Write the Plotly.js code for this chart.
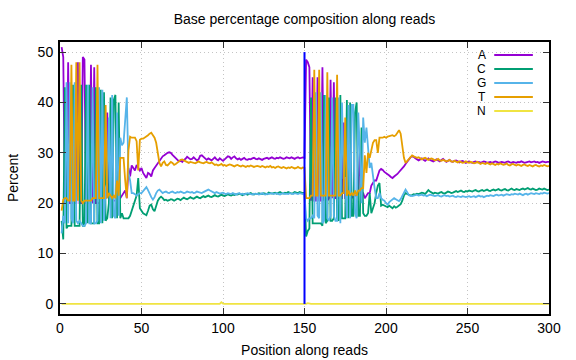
<!DOCTYPE html>
<html><head><meta charset="utf-8">
<script src="https://cdn.plot.ly/plotly-3.0.1.min.js"></script>
<style>html,body{margin:0;padding:0;background:#fff}#chart{width:576px;height:360px}</style>
</head><body><div id="chart"></div>
<script>
const seriesNames = ['A', 'C', 'G', 'T', 'N'];
const seriesColors = ['#9400d3', '#009e73', '#56b4e9', '#e69f00', '#f0e442'];
const firstPosition = 1;

const percentA = [
51, 49, 20, 20, 48, 20, 20, 20, 20, 20,
48, 20, 20, 49, 48.5, 20, 20, 20, 47.5, 20,
47, 20, 20, 20, 20.5, 20.5, 20.5, 21, 38, 21,
20.5, 20.5, 20.5, 20.5, 20.5, 21, 21, 21.5, 22, 22.5,
21, 27, 25.3, 27.5, 27, 26.5, 27.6, 27, 26.5, 27,
26, 25.5, 25, 26, 25.8, 25.3, 26.5, 27, 27.5, 27.8,
28.3, 28.8, 29.3, 29.5, 29.8, 30, 30.1, 30, 29.6, 29.3,
29, 28.6, 28.3, 28.5, 28.2, 28.6, 28.8, 29.2, 29, 28.7,
28.8, 29.1, 28.8, 28.5, 28.7, 29.4, 29.5, 29.2, 28.8, 28.6,
28.9, 28.7, 28.5, 28.8, 29.1, 28.7, 28.5, 28.9, 28.6, 28.4,
28.7, 29, 29.3, 29.2, 28.8, 29.1, 29.3, 28.9, 28.7, 28.9,
28.6, 28.8, 29.0, 28.7, 28.6, 28.8, 28.7, 28.9, 29.0, 28.8,
28.7, 28.9, 28.8, 28.6, 28.8, 28.9, 29.0, 28.8, 28.9, 29.1,
28.9, 28.8, 29.0, 28.9, 29.1, 29.0, 28.8, 28.9, 29.1, 29.0,
28.9, 29.1, 29.0, 28.8, 29.0, 29.1, 28.9, 29.0, 29.1, 29.0,
48.5, 48, 47, 20.5, 45, 20.5, 20.5, 45, 20.5, 20.5,
47, 20.5, 21, 20.5, 21, 44.5, 21, 44, 21, 21,
21, 21, 21, 36, 21, 21, 21, 21.5, 21, 21.5,
21.5, 21.5, 22, 30, 22, 22, 21, 21.5, 22, 22,
23.5, 24, 24.5, 24.5, 25.5, 26.5, 26.8, 26.6, 26.2, 26,
25.7, 25.5, 25.2, 25, 25.3, 25.5, 25.8, 26.2, 26.5, 27,
27.3, 27.8, 28.3, 28.8, 29.1, 29.3, 29.2, 28.9, 28.6, 28.5,
28.7, 28.9, 28.6, 28.4, 28.7, 28.9, 28.6, 28.4, 28.3, 28.5,
28.7, 28.5, 28.3, 28.6, 28.8, 28.5, 28.2, 28.4, 28.6, 28.3,
28.2, 28.4, 28.5, 28.3, 28.1, 28.3, 28.4, 28.2, 28.0, 28.2,
28.3, 28.1, 28.0, 28.2, 28.3, 28.1, 28.2, 28.0, 28.1, 28.3,
28.2, 28.0, 28.1, 28.2, 28.0, 28.1, 28.3, 28.2, 28.0, 28.1,
28.2, 28.1, 28.0, 28.2, 28.3, 28.1, 28.0, 28.2, 28.1, 28.0,
28.2, 28.1, 28.3, 28.2, 28.0, 28.1, 28.2, 28.3, 28.1, 28.2,
28.3, 28.1, 28.2, 28.0, 28.1, 28.3, 28.2, 28.1, 28.2, 28.2
];

const percentC = [
16.5, 12.8, 43, 15, 15.5, 15.5, 15.5, 43.5, 15.5, 15.5,
15.5, 15.5, 43.5, 15.5, 15.5, 43.5, 16, 43.5, 16, 16,
16, 43, 16, 16, 42.5, 16, 42, 16.5, 17, 20,
41, 17, 40.5, 41.5, 17, 40, 17, 18, 17, 17,
17, 17, 17.5, 18.5, 19.5, 20.5, 21.5, 25, 19, 18.5,
18, 17.8, 17.6, 18.5, 19.5, 19.7, 18.8, 18.4, 19.5, 20.5,
21, 21.3, 21, 20.6, 20.7, 20.5, 20.6, 20.8, 20.7, 20.5,
20.7, 20.9, 20.8, 20.6, 20.9, 21.1, 20.9, 20.8, 21.0, 21.2,
21.0, 20.9, 21.1, 21.3, 21.1, 21.0, 21.2, 21.4, 21.2, 21.3,
21.5, 21.3, 21.2, 21.4, 21.6, 21.4, 21.3, 21.5, 21.7, 21.5,
21.4, 21.6, 21.8, 21.6, 21.5, 21.7, 21.6, 21.8, 21.7, 21.9,
21.8, 21.6, 21.8, 21.9, 21.7, 21.8, 22.0, 21.8, 21.7, 21.9,
21.8, 22.0, 21.9, 21.8, 22.0, 21.9, 21.8, 22.1, 22.0, 21.9,
22.0, 22.1, 21.9, 22.0, 22.2, 22.0, 21.9, 22.1, 22.0, 22.2,
22.1, 21.9, 22.0, 22.2, 22.1, 22.0, 22.2, 22.1, 22.0, 22.1,
13.4, 14.5, 15, 41, 16, 16, 16, 16, 16, 16,
15.5, 41.5, 16, 16.5, 41, 16.5, 16.5, 17, 41, 17,
16.5, 41.5, 17, 17, 17, 40.5, 17, 40, 17.5, 17.5,
38, 40, 17.5, 17.5, 35, 18, 17.5, 17.5, 18, 22,
18, 19, 20, 22, 23.5, 24, 19.5, 19.7, 19.5, 19.3,
19.2, 19.5, 19.2, 19, 19.4, 19.1, 19.3, 19.5, 19.8, 20.5,
21.5, 22, 21.8, 21.6, 21.5, 21.6, 21.8, 21.7, 21.9, 21.8,
21.9, 22.1, 22.0, 21.8, 22.2, 22.6, 22.3, 22.0, 21.9, 22.1,
22.0, 21.9, 22.1, 22.2, 22.0, 21.9, 22.1, 22.3, 22.2, 22.0,
22.1, 22.3, 22.4, 22.2, 22.3, 22.5, 22.3, 22.2, 22.4, 22.3,
22.5, 22.4, 22.3, 22.5, 22.6, 22.4, 22.3, 22.5, 22.6, 22.4,
22.5, 22.7, 22.5, 22.4, 22.6, 22.7, 22.5, 22.6, 22.8, 22.6,
22.5, 22.7, 22.8, 22.6, 22.5, 22.7, 22.9, 22.7, 22.6, 22.8,
22.7, 22.6, 22.8, 22.9, 22.7, 22.8, 23.0, 22.8, 22.7, 22.9,
22.8, 22.6, 22.7, 22.9, 22.8, 22.7, 22.9, 22.8, 22.6, 22.7
];

const percentG = [
14, 17.5, 16, 44, 16, 44, 17, 16, 44, 16.5,
16, 16.5, 16, 15.5, 15.5, 16, 43.5, 16, 16, 43,
16, 16, 16.5, 43, 16, 42.5, 16.5, 23, 24, 37,
17, 41.5, 17.5, 17, 38, 17.5, 33, 31.5, 32, 36,
41, 26, 24.5, 22, 22, 21.8, 21.5, 21.8, 22, 22,
22.4, 22.8, 23.2, 22.6, 21.8, 21.2, 20.7, 21.2, 22, 22.5,
22.7, 22.3, 22, 22.2, 22.3, 22.1, 22, 22.2, 22.3, 22.1,
22, 22.2, 22.1, 22.3, 22.2, 22, 22.1, 22.3, 22.2, 22.1,
22.2, 22.0, 22.1, 22.3, 22.2, 22.1, 22.0, 22.2, 22.4, 22.6,
22.7, 22.5, 22.3, 22.1, 22.0, 22.2, 22.1, 21.9, 22.0, 22.1,
21.9, 21.8, 22.0, 21.9, 21.8, 22.0, 21.9, 21.7, 21.9, 22.0,
21.8, 21.9, 21.7, 21.8, 22.0, 21.9, 21.8, 21.7, 21.9, 21.8,
21.9, 21.7, 21.8, 22.0, 21.8, 21.7, 21.9, 21.8, 21.9, 22.0,
21.8, 21.9, 22.0, 21.8, 21.7, 21.9, 22.0, 21.8, 21.9, 21.8,
22.0, 21.9, 21.8, 22.0, 21.9, 21.8, 22.0, 21.9, 21.8, 21.9,
17, 16.5, 17, 17, 17.5, 17, 42, 17.5, 17, 42,
16, 16.5, 41.5, 17, 16.5, 17.5, 41, 17.5, 16.5, 16.5,
41, 16, 40, 25, 25, 17, 39.5, 17, 39.5, 39.5,
18, 17, 38, 30, 20, 37, 32, 35, 30, 27,
28, 25, 23, 21, 21, 22, 21, 20.7, 20.5, 20,
19.7, 20.2, 20.5, 20.7, 21, 20.8, 20.6, 20.4, 20.8, 21.5,
22, 22.7, 22.2, 21.6, 21.5, 21.4, 21.5, 21.6, 21.7, 21.5,
21.6, 21.7, 21.5, 21.6, 21.4, 21.5, 21.7, 21.6, 21.5, 21.4,
21.5, 21.6, 21.4, 21.3, 21.5, 21.6, 21.4, 21.5, 21.3, 21.4,
21.5, 21.3, 21.2, 21.4, 21.3, 21.2, 21.4, 21.3, 21.2, 21.3,
21.4, 21.2, 21.3, 21.4, 21.2, 21.3, 21.5, 21.3, 21.4, 21.2,
21.3, 21.5, 21.4, 21.6, 21.5, 21.4, 21.6, 21.7, 21.5, 21.6,
21.7, 21.5, 21.6, 21.8, 21.7, 21.6, 21.8, 21.7, 21.9, 21.8,
21.7, 21.9, 21.8, 21.6, 21.8, 21.9, 21.7, 21.8, 22.0, 21.9,
21.8, 22.0, 21.9, 21.8, 22.0, 21.9, 22.1, 22.0, 21.9, 22.0
];

const percentT = [
18.5, 20.7, 21, 21, 20.5, 20.5, 47.5, 20.5, 20.5, 48,
20.5, 48, 20.5, 20, 20.5, 20.5, 20.5, 20.5, 20.5, 21,
21, 21, 47.5, 21, 21, 21, 21, 39.5, 21, 22,
21.5, 21, 21.5, 21, 24.5, 21.5, 29, 29, 29, 24.5,
21, 30.5, 33.2, 33, 33, 33, 32.3, 26.5, 32.6, 32.8,
32.8, 33, 33.2, 33.5, 33.8, 34, 33.5, 33, 32, 30,
28, 27.3, 28, 28.3, 27.6, 27.5, 27.8, 28.2, 28, 27.6,
27.8, 28, 28.3, 28.6, 28.7, 28.5, 28.3, 28.2, 28, 28.2,
28.1, 28, 27.9, 28.1, 28.3, 28.1, 28, 27.9, 28.1, 28.2,
28.0, 27.9, 28.1, 27.8, 27.6, 27.7, 27.5, 27.6, 27.8, 27.5,
27.6, 27.4, 27.5, 27.7, 27.6, 27.4, 27.3, 27.5, 27.6, 27.4,
27.3, 27.5, 27.4, 27.2, 27.4, 27.3, 27.5, 27.4, 27.2, 27.3,
27.4, 27.3, 27.2, 27.4, 27.3, 27.1, 27.3, 27.2, 27.4, 27.1,
27.2, 27.0, 27.2, 27.3, 27.1, 27.0, 27.2, 27.1, 26.9, 27.1,
27.0, 27.2, 27.1, 26.9, 27.0, 27.2, 27.0, 26.9, 27.1, 27.0,
21, 21, 21, 21.5, 21.5, 46.5, 21.5, 21.5, 46.5, 21.5,
21.5, 21.5, 21.5, 46, 21.5, 21.5, 21.5, 21.5, 21.5, 45.5,
21.5, 21.5, 22, 22, 37, 21.5, 22.5, 21.5, 22, 21.5,
22.5, 21.5, 22.5, 22.5, 23, 23, 29.5, 26, 30, 29,
30.5, 32, 32.5, 32.5, 30, 33, 33, 33, 33.2, 33,
33.2, 33.3, 33.5, 33.5, 33.3, 33.5, 34, 34.5, 33.8, 31,
29, 28, 28.4, 28.8, 29.3, 29.5, 29.3, 29.2, 29, 29.1,
28.9, 28.7, 28.9, 29.0, 28.8, 28.6, 28.8, 28.9, 28.7, 28.5,
28.6, 28.8, 28.5, 28.4, 28.6, 28.5, 28.3, 28.4, 28.6, 28.3,
28.2, 28.4, 28.3, 28.1, 28.3, 28.2, 28.0, 28.1, 28.3, 28.1,
28.0, 28.2, 28.1, 27.9, 28.0, 28.2, 28.0, 27.8, 28.0, 27.9,
27.8, 28.0, 27.9, 27.7, 27.9, 27.8, 27.6, 27.8, 27.7, 27.9,
27.8, 27.6, 27.7, 27.9, 27.6, 27.5, 27.7, 27.8, 27.6, 27.5,
27.7, 27.6, 27.4, 27.6, 27.7, 27.5, 27.4, 27.6, 27.5, 27.3,
27.5, 27.6, 27.4, 27.3, 27.5, 27.4, 27.6, 27.5, 27.3, 27.4
];

const percentN = [
0, 0, 0, 0, 0, 0, 0, 0, 0, 0,
0, 0, 0, 0, 0, 0, 0, 0, 0, 0,
0, 0, 0, 0, 0, 0, 0, 0, 0, 0,
0, 0, 0, 0, 0, 0, 0, 0, 0, 0,
0, 0, 0, 0, 0, 0, 0, 0, 0, 0,
0, 0, 0, 0, 0, 0, 0, 0, 0, 0,
0, 0, 0, 0, 0, 0, 0, 0, 0, 0,
0, 0, 0, 0, 0, 0, 0, 0, 0, 0,
0, 0, 0, 0, 0, 0, 0, 0, 0, 0,
0, 0, 0, 0, 0, 0, 0, 0, 0.35, 0.05,
0, 0, 0, 0, 0, 0, 0, 0, 0, 0,
0, 0, 0, 0, 0, 0, 0, 0, 0, 0,
0, 0, 0, 0, 0, 0, 0, 0, 0, 0,
0, 0, 0, 0, 0, 0, 0, 0, 0, 0,
0, 0, 0, 0, 0, 0, 0, 0, 0, 0,
0, 0.15, 0, 0, 0, 0, 0, 0, 0, 0,
0, 0, 0, 0, 0, 0, 0, 0, 0, 0,
0, 0, 0, 0, 0, 0, 0, 0, 0, 0,
0, 0, 0, 0, 0, 0, 0, 0, 0, 0,
0, 0, 0, 0, 0, 0, 0, 0, 0, 0,
0, 0, 0, 0, 0, 0.12, 0, 0, 0, 0,
0, 0, 0, 0, 0, 0, 0, 0, 0, 0,
0, 0, 0, 0, 0, 0, 0.1, 0, 0, 0,
0, 0, 0, 0, 0, 0, 0, 0, 0, 0,
0, 0, 0, 0, 0, 0, 0, 0, 0, 0,
0, 0, 0, 0, 0, 0.08, 0, 0, 0, 0,
0, 0, 0, 0, 0, 0, 0, 0, 0, 0,
0, 0, 0, 0, 0, 0, 0, 0, 0, 0,
0, 0, 0, 0, 0, 0, 0, 0, 0, 0,
0, 0.12, 0, 0, 0, 0, 0, 0, 0, 0
];

const boundaryX = [150, 150];
const boundaryY = [0, 50];

const seriesValues = [percentA, percentC, percentG, percentT, percentN];

const FONT = 'Liberation Sans, Arial, sans-serif';

const traces = seriesValues.map((vals, i) => ({
  type: 'scatter', mode: 'lines', name: seriesNames[i],
  x0: firstPosition, dx: 1, y: vals,
  line: {color: seriesColors[i], width: 1.8},
  hoverinfo: 'skip', showlegend: false
}));
traces.push({
  type: 'scatter', mode: 'lines', x: boundaryX, y: boundaryY,
  line: {color: '#0000ff', width: 2}, showlegend: false, hoverinfo: 'skip'
});

// gnuplot-style key: label on the left, line sample on the right
const keyTextRight = 0.873, keyLineX0 = 0.888, keyLineX1 = 0.967;
const keyTop = 0.952, keyStep = 0.0515;
const annotations = [], shapes = [];
seriesNames.forEach((nm, i) => {
  const yy = keyTop - i * keyStep;
  annotations.push({xref: 'paper', yref: 'paper', x: keyTextRight, y: yy,
    xanchor: 'right', yanchor: 'middle', text: nm, showarrow: false,
    borderpad: 0,
    font: {family: FONT, size: 12, color: '#000'}});
  shapes.push({type: 'line', xref: 'paper', yref: 'paper',
    x0: keyLineX0, x1: keyLineX1, y0: yy, y1: yy,
    line: {color: seriesColors[i], width: 2}});
});

const axisCommon = {
  showline: true, linecolor: '#000', linewidth: 2, mirror: 'ticks',
  ticks: 'inside', ticklen: 6, tickwidth: 1, tickcolor: '#333',
  showgrid: true, gridcolor: '#c4c4c4', griddash: '1px,3px', gridwidth: 1,
  zeroline: false, tickfont: {family: FONT, size: 14, color: '#000'}
};

const layout = {
  width: 576, height: 360,
  margin: {l: 60, r: 27, t: 42, b: 46},
  paper_bgcolor: '#fff', plot_bgcolor: '#fff',
  font: {family: FONT, size: 14, color: '#000'},
  title: {text: 'Base percentage composition along reads', x: 0.5, xref: 'paper',
    y: 1 - 19 / 360, yref: 'container', yanchor: 'middle',
    font: {family: FONT, size: 14, color: '#000'}},
  xaxis: Object.assign({}, axisCommon, {range: [0, 300], tickvals: [0, 50, 100, 150, 200, 250, 300],
    title: {text: 'Position along reads', standoff: 10, font: {family: FONT, size: 14}}}),
  yaxis: Object.assign({}, axisCommon, {range: [-2, 52], tickvals: [0, 10, 20, 30, 40, 50],
    ticklabelstandoff: 2,
    title: {text: 'Percent', standoff: 16, font: {family: FONT, size: 14}}}),
  annotations: annotations, shapes: shapes, showlegend: false
};

Plotly.newPlot('chart', traces, layout, {staticPlot: true, displayModeBar: false});
</script></body></html>
